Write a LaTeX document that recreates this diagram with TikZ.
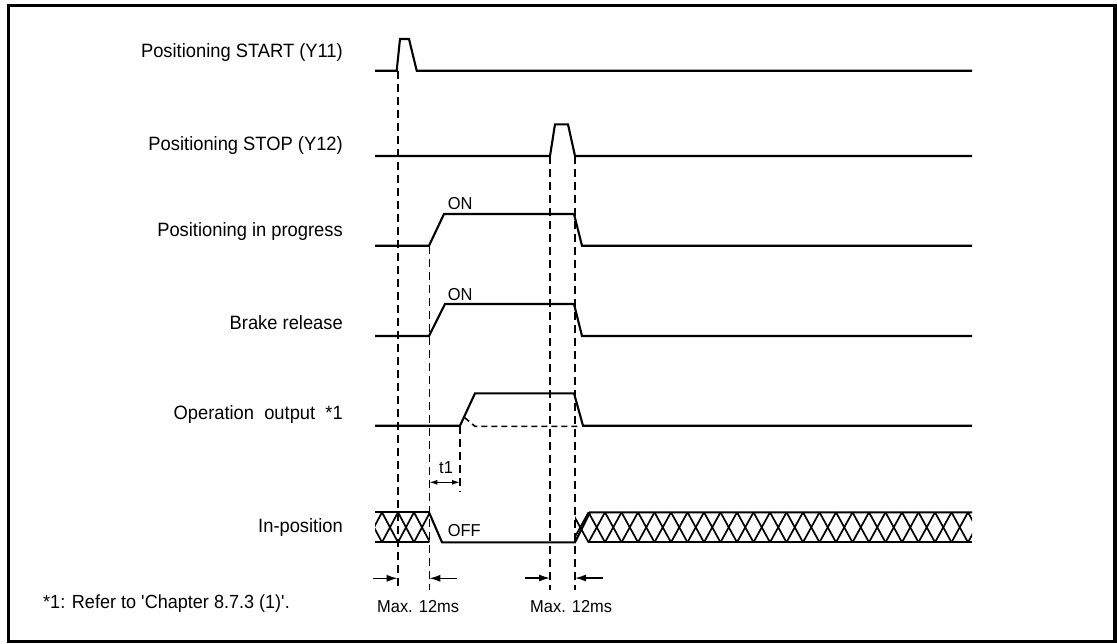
\documentclass[tikz,border=0pt]{standalone}
\usepackage{fontspec}
\setmainfont{Liberation Sans}[FakeStretch=0.95]
\usetikzlibrary{arrows.meta}
\begin{document}
\begin{tikzpicture}[x=1pt,y=-1pt,
  sig/.style={line width=2.1pt, line join=miter},
  hatch/.style={line width=1.7pt},
  guide/.style={line width=1.6pt, dash pattern=on 8pt off 5pt},
  lbl/.style={anchor=base east, inner sep=0pt, font=\fontsize{19.3}{22}\selectfont},
  small/.style={anchor=base west, inner sep=0pt, font=\fontsize{17.3}{19}\selectfont},
  note/.style={anchor=base west, inner sep=0pt, font=\fontsize{19}{22}\selectfont},
  dimarrow/.style={line width=1.4pt, -{Latex[length=11pt,width=7pt]}},
  tarrow/.style={line width=1.3pt, {Latex[length=8pt,width=5pt]}-{Latex[length=8pt,width=5pt]}},
]
\useasboundingbox (0,0) rectangle (1117,643);
\draw[line width=3.5pt] (8.7,5.7) rectangle (1115.2,641.3);

% row labels
\node[lbl] (l1) at (343,57.6) {Positioning START (Y11)};
\node[lbl] (l2) at (343,150.7) {Positioning STOP (Y12)};
\node[lbl] (l3) at (343,236.7) {Positioning in progress};
\node[lbl] (l4) at (343,329.3) {Brake release};
\node[lbl] (l5) at (343,419.5) {Operation\ \ output\ \ *1};
\node[lbl] (l6) at (343,532) {In-position};

% guide lines (dashed)
\coordinate (tA) at (397.7,70.7);
\coordinate (tB) at (429.3,245.7);
\coordinate (tC) at (460,425.7);
\coordinate (tD) at (550,156);
\coordinate (tE) at (575,156);
\draw[guide] (tA) -- (397.7,590);
\draw[guide] (tB) -- (429.3,590);
\draw[guide] (tC) -- (460,491);
\draw[guide] (tD) -- (550,590);
\draw[guide] (tE) -- (575,590);

% signals
\draw[sig] (375,70.7) -- (396.7,70.7) -- (400,39) -- (409,39) -- (416.7,70.7) -- (972,70.7);
\draw[sig] (375,156) -- (550,156) -- (555,124.3) -- (568,124.3) -- (575,156) -- (972,156);
\draw[sig] (375,245.7) -- (429,245.7) -- (444,214) -- (574,214) -- (582,245.7) -- (972,245.7);
\draw[sig] (375,336) -- (429,336) -- (445,304) -- (574,304) -- (582,336) -- (972,336);
\draw[sig] (375,425.7) -- (460,425.7) -- (475,393.3) -- (574,393.3) -- (583,425.7) -- (972,425.7);
\draw[guide, dash pattern=on 6pt off 4pt] (464.5,417.5) -- (475,426.3) -- (580,426.3);

% in-position
\draw[sig] (375,512.3) -- (429,512.3);
\draw[sig] (375,542.3) -- (429,542.3);
\draw[sig] (429,512.3) -- (442,542.3) -- (575,542.3) -- (590,512.3) -- (972,512.3);
\draw[sig] (588,542.3) -- (972,542.3);
\begin{scope}
  \clip (375,510) rectangle (429.5,545);
  \foreach \x in {350,366,...,430} {
    \draw[hatch] (\x,512.3) -- (\x+16,542.3);
    \draw[hatch] (\x+16,512.3) -- (\x,542.3);
  }
\end{scope}
\begin{scope}
  \clip (575,510) rectangle (972,545);
  \foreach \k in {-1,0,...,24} {
    \pgfmathsetmacro{\x}{572+16.5*\k}
    \draw[hatch] (\x,512.3) -- (\x+16.5,542.3);
    \draw[hatch] (\x+16.5,512.3) -- (\x,542.3);
  }
\end{scope}

% small labels
\node[small] (on1) at (447.7,209.3) {ON};
\node[small] (on2) at (447.7,300.7) {ON};
\node[small] (off) at (447.7,536.7) {OFF};
\node[small] (t1) at (439,473.3) {t1};
\draw[tarrow] (429.3,482.3) -- (460,482.3);

% max arrows
\draw[dimarrow] (372.7,578.3) -- (397.7,578.3);
\draw[dimarrow] (456.7,578.3) -- (429.3,578.3);
\draw[dimarrow] (525,578) -- (550,578);
\draw[dimarrow] (602.7,578) -- (575,578);
\node[small] (m1) at (377,612.7) {Max. 12ms};
\node[small] (m2) at (530,612.7) {Max. 12ms};

\node[note] (fn) at (43,608.3) {*1: Refer to \textquotesingle Chapter 8.7.3 (1)\textquotesingle.};
\end{tikzpicture}
\end{document}
